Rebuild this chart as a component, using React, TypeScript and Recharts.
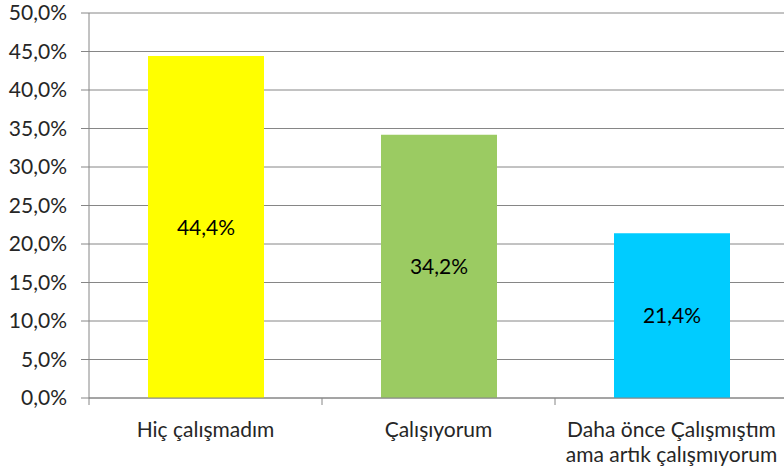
import React from 'react';
import { BarChart, Bar, XAxis, YAxis, CartesianGrid, Cell, LabelList } from 'recharts';

const categories = ['Hiç çalışmadım', 'Çalışıyorum', 'Daha önce Çalışmıştım\nama artık çalışmıyorum'];
const shares = [0.444, 0.342, 0.214];
const barColors = ['#FFFF00', '#9BCB62', '#00CCFF'];
const yTicks = [0, 0.05, 0.1, 0.15, 0.2, 0.25, 0.3, 0.35, 0.4, 0.45, 0.5];

const data = categories.map((name, i) => ({ name, value: shares[i] }));

const W = 784;
const CHART_W = 788; // plot runs slightly past the right edge, as in the original
const H = 473;
const LEFT = 89;
const FONT = 'Lato, "Open Sans", sans-serif';
const FS = 21;
const GRID = '#868686';

const pct = (v: number) => (v * 100).toFixed(1).replace('.', ',') + '%';

const CategoryTick = (props: any) => {
  const { x, y, payload } = props;
  const band = (CHART_W - LEFT) / categories.length;
  const lines = String(payload.value).split('\n');
  return (
    <g>
      <line x1={x + band / 2} y1={y - 8} x2={x + band / 2} y2={y - 1} stroke={GRID} />
      {payload.index === 0 && (
        <line x1={x - band / 2} y1={y - 8} x2={x - band / 2} y2={y - 1} stroke={GRID} />
      )}
      <text x={x} y={y + 31} textAnchor="middle" fill="#262626" fontSize={FS} fontFamily={FONT}>
        {lines.map((l, i) => (
          <tspan key={i} x={x} dy={i === 0 ? 0 : 25}>{l}</tspan>
        ))}
      </text>
    </g>
  );
};

export default function App() {
  return (
    <div style={{ position: 'absolute', left: 0, top: 0, width: W, height: H, overflow: 'hidden', background: '#fff' }}>
      <BarChart width={CHART_W} height={H} data={data} margin={{ top: 13, right: 0, left: 0, bottom: 0 }} barCategoryGap={0}>
        <CartesianGrid vertical={false} stroke={GRID} />
        <XAxis
          dataKey="name"
          height={75}
          axisLine={{ stroke: GRID }}
          tickLine={false}
          tick={<CategoryTick />}
          interval={0}
        />
        <YAxis
          width={LEFT}
          domain={[0, 0.5]}
          ticks={yTicks}
          tickFormatter={pct}
          axisLine={{ stroke: GRID }}
          tickLine={{ stroke: GRID }}
          tickSize={8}
          tickMargin={14}
          tick={{ fill: '#262626', fontSize: FS, fontFamily: FONT }}
        />
        <Bar dataKey="value" barSize={116} isAnimationActive={false}>
          {data.map((d, i) => (
            <Cell key={d.name} fill={barColors[i]} />
          ))}
          <LabelList dataKey="value" position="center" formatter={(v: any) => pct(Number(v))} fill="#000" fontSize={FS} fontFamily={FONT} />
        </Bar>
      </BarChart>
    </div>
  );
}
